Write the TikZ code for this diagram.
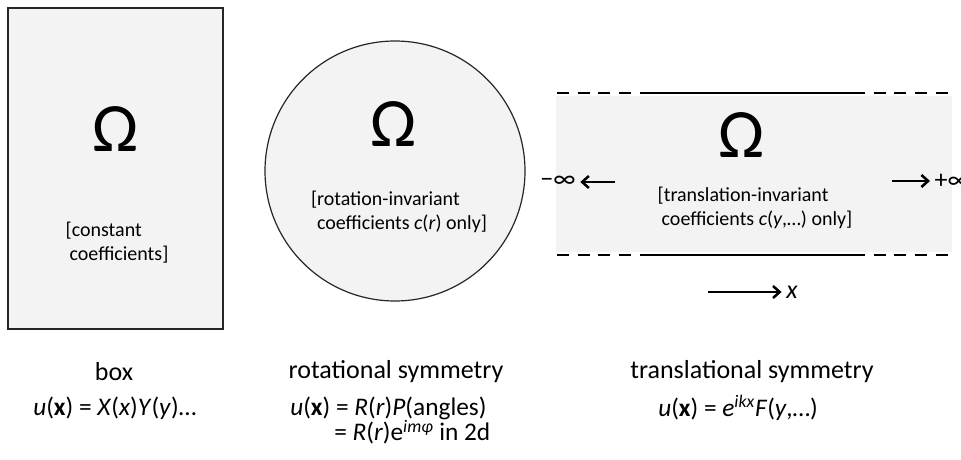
\documentclass[tikz,border=0pt]{standalone}
\usepackage{fontspec}
\setmainfont{Carlito}
\usetikzlibrary{arrows.meta}
\usetikzlibrary{positioning}
\definecolor{regiongray}{HTML}{F3F3F3}

\begin{document}
\begin{tikzpicture}[x=0.75pt, y=-0.75pt,
    region/.style={fill=regiongray, draw=black!85, line width=0.9pt},
    bigomega/.style={font=\fontsize{52}{56}\selectfont},
    note/.style={font=\fontsize{15}{18}\selectfont, align=left},
    caption/.style={font=\fontsize{19.5}{23}\selectfont},
    formula/.style={font=\fontsize{19}{23}\selectfont, anchor=west, inner sep=0pt},
    wall/.style={line width=1.9pt},
    openwall/.style={line width=1.9pt, dash pattern=on 9pt off 6.5pt},
    pointer/.style={line width=1.9pt, -{Straight Barb[length=5pt, width=9pt]}}]
    \useasboundingbox (0,0) rectangle (961,460);
    % box
    \draw[region] (8,8) rectangle (223,329);
    \node[bigomega] (omegaBox) at (116,129) {Ω};
    \node[note] (noteBox) at (117,243) {[constant\\\hspace{0.2em}coefficients]};
    % disc
    \draw[region] (395,171) circle (97.5pt);
    \node[bigomega] (omegaDisc) at (394,124) {Ω};
    \node[note] (noteDisc) at (399,212) {[rotation-invariant\\\hspace{0.3em}coefficients \textit{c}(\textit{r}) only]};
    % strip
    \fill[regiongray] (556,96) rectangle (952,252);
    \foreach \y in {93,255} {
        \draw[openwall] (557,\y) -- (640,\y);
        \draw[wall] (640,\y) -- (853,\y);
        \draw[openwall] (853,\y) -- (948,\y);
    }
    \node[bigomega] (omegaStrip) at (742,135) {Ω};
    \node[note] (noteStrip) at (755,208) {[translation-invariant\\\hspace{0.2em}coefficients \textit{c}(\textit{y},…) only]};
    \node[caption] (minusInf) at (558,182) {−∞};
    \coordinate (leftTail) at (615,182);
    \draw[pointer] (leftTail) -- (minusInf.east);
    \node[caption, anchor=west] (plusInf) at (930,181) {+∞};
    \coordinate (rightTail) at (892,181);
    \draw[pointer] (rightTail) -- (plusInf.west);
    \node[caption] (xLabel) at (792,292) {\textit{x}};
    \coordinate (xTail) at (708,292);
    \draw[pointer] (xTail) -- (xLabel.west);
    % captions and formulas
    \foreach \name/\x/\txt in {Box/114/box, Rot/396/rotational symmetry, Trans/752/translational symmetry}
        \node[caption] (cap\name) at (\x,372) {\txt};
    \node[formula] (eqBox) at (33,408) {\textit{u}(\textbf{x}) = \textit{X}(\textit{x})\textit{Y}(\textit{y})…};
    \node[formula] (eqRot) at (290,408) {\textit{u}(\textbf{x}) = \textit{R}(\textit{r})\textit{P}(angles)};
    \node[formula] (eqRotTwo) at (334,432) {= \textit{R}(\textit{r})e\textsuperscript{\textit{imφ}} in 2d};
    \node[formula] (eqTrans) at (658,408) {\textit{u}(\textbf{x}) = \textit{e}\textsuperscript{\textit{ikx}}\textit{F}(\textit{y},…)};
\end{tikzpicture}
\end{document}
